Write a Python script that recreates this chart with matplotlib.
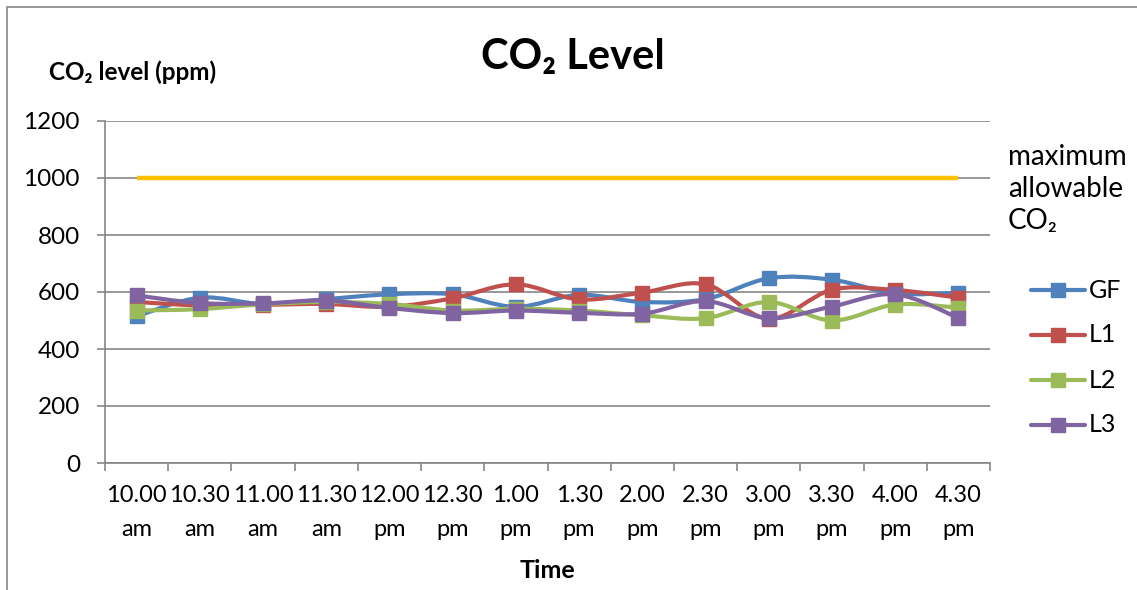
import matplotlib
matplotlib.use("Agg")
import matplotlib.pyplot as plt
from matplotlib.path import Path
from matplotlib.patches import PathPatch, Rectangle
from matplotlib.lines import Line2D

plt.rcParams['font.family'] = ['Lato', 'DejaVu Sans']

# data
times = ["10.00\nam", "10.30\nam", "11.00\nam", "11.30\nam", "12.00\npm", "12.30\npm",
         "1.00\npm", "1.30\npm", "2.00\npm", "2.30\npm", "3.00\npm", "3.30\npm",
         "4.00\npm", "4.30\npm"]
gf = [515, 580, 558, 575, 592, 592, 548, 590, 565, 575, 648, 643, 595, 597]
l1 = [565, 553, 555, 558, 548, 578, 627, 574, 598, 627, 506, 608, 607, 580]
l2 = [535, 540, 557, 565, 558, 535, 541, 535, 518, 508, 565, 500, 556, 545]
l3 = [588, 561, 560, 570, 544, 526, 535, 527, 524, 568, 508, 549, 592, 509]
max_allowable = [1000] * len(times)

series = [("GF", gf, "#4F81BD"), ("L1", l1, "#C0504D"),
          ("L2", l2, "#9BBB59"), ("L3", l3, "#8064A2")]

W, H = 1137, 590


def smooth_path(xs, ys):
    # Excel-style smoothed line: cubic bezier through each point
    n = len(xs)
    verts = [(xs[0], ys[0])]
    codes = [Path.MOVETO]
    for i in range(n - 1):
        x0, y0 = xs[max(i - 1, 0)], ys[max(i - 1, 0)]
        x1, y1 = xs[i], ys[i]
        x2, y2 = xs[i + 1], ys[i + 1]
        x3, y3 = xs[min(i + 2, n - 1)], ys[min(i + 2, n - 1)]
        c1 = (x1 + (x2 - x0) / 6.0, y1 + (y2 - y0) / 6.0)
        c2 = (x2 - (x3 - x1) / 6.0, y2 - (y3 - y1) / 6.0)
        verts += [c1, c2, (x2, y2)]
        codes += [Path.CURVE4] * 3
    return Path(verts, codes)


fig = plt.figure(figsize=(W / 100, H / 100), dpi=100)
fig.patches.append(Rectangle((7 / W, -0.1), 1.2, (H - 7) / H + 0.1,
                             transform=fig.transFigure, fill=False,
                             edgecolor="#868686", linewidth=1.2))

ax = fig.add_axes([105 / W, (H - 463) / H, 885 / W, 342 / H])
xs = list(range(len(times)))

ax.set_xlim(-0.5, len(times) - 0.5)
ax.set_ylim(0, 1200)
ax.set_yticks(range(0, 1201, 200))
ax.set_yticklabels([str(v) for v in range(0, 1201, 200)], fontsize=17.5)
ax.grid(axis='y', color="#868686", linewidth=1.2)
ax.set_axisbelow(True)

# category boundaries as ticks, labels at centers
ax.set_xticks([i - 0.5 for i in range(len(times) + 1)])
ax.set_xticklabels([])
ax.set_xticks(xs, minor=True)
ax.set_xticklabels(times, minor=True, fontsize=17, linespacing=1.75)
ax.tick_params(axis='x', which='minor', length=0, pad=16)
ax.tick_params(axis='x', which='major', length=6, color="#868686", width=1.2)
ax.tick_params(axis='y', length=6, color="#868686", width=1.2, pad=12)

for side in ["top", "right"]:
    ax.spines[side].set_visible(False)
for side in ["left", "bottom"]:
    ax.spines[side].set_color("#868686")
    ax.spines[side].set_linewidth(1.2)

ax.plot(xs, max_allowable, color="#FFC000", linewidth=3.2, solid_capstyle='butt', zorder=2)

for k, (name, vals, col) in enumerate(series):
    ax.add_patch(PathPatch(smooth_path(xs, vals), fill=False, edgecolor=col,
                           linewidth=3.0, zorder=3 + k, capstyle='round'))
    ax.plot(xs, vals, linestyle='none', marker='s', markersize=9.5,
            color=col, zorder=3 + k, clip_on=False)

    # legend entry
    ly = 1 - (290 + 45 * k) / H
    fig.add_artist(Line2D([1031 / W, 1085 / W], [ly, ly], color=col, linewidth=3.0,
                          solid_capstyle='round'))
    fig.add_artist(Line2D([1058 / W], [ly], color=col, marker='s', markersize=9.5,
                          linestyle='none'))
    fig.text(1089 / W, ly, name, fontsize=18, ha='left', va='center')

fig.text(573 / W, 1 - 57 / H, "CO₂ Level", fontsize=30, fontweight='bold',
         ha='center', va='center')
fig.text(49 / W, 1 - 72 / H, "CO₂ level (ppm)", fontsize=17.5, fontweight='bold',
         ha='left', va='center')
fig.text(547 / W, 1 - 571 / H, "Time", fontsize=18, fontweight='bold',
         ha='center', va='center')
fig.text(1008 / W, 1 - 189 / H, "maximum\nallowable\nCO₂", fontsize=20,
         ha='left', va='center', linespacing=1.3)

fig.savefig("out.png", dpi=100)
